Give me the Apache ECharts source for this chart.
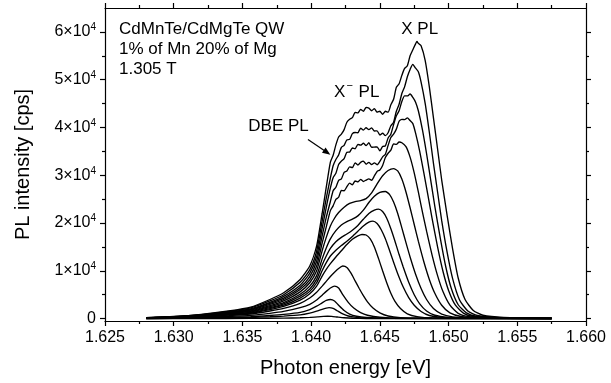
<!DOCTYPE html>
<html>
<head>
<meta charset="utf-8">
<script src="https://cdn.jsdelivr.net/npm/echarts@6/dist/echarts.min.js"></script>
<style>
  html, body { margin: 0; padding: 0; background: #fff; }
  #chart { width: 611px; height: 383px; }
</style>
</head>
<body>
<div id="chart"></div>
<script>
// PL spectra [photon energy (eV), intensity (cps)], strongest spectrum first
const spec01 = [[1.6280,200],[1.6300,450],[1.6320,900],[1.6340,1600],[1.6356,2400],[1.6370,4000],[1.6380,5400],[1.6392,8200],[1.6399,11000],[1.6404,15200],[1.6408,22000],[1.6411,27500],
  [1.6414,32750],[1.6416,34200],[1.6418,36350],[1.6420,38000],[1.6422,38600],[1.6424,39550],[1.6426,41100],[1.6428,41700],[1.6430,42050],[1.6432,43150],[1.6434,43050],[1.6436,43800],[1.6438,43400],[1.6440,44200],[1.6442,44050],[1.6444,43500],[1.6446,43950],[1.6448,43200],[1.6450,43400],[1.6452,42750],[1.6454,43400],[1.6456,43200],[1.6458,44750],[1.6460,45900],[1.6462,48400],[1.6464,49150],[1.6466,50900],[1.6468,52350],[1.6470,52900],[1.6472,55000],[1.6474,56250],[1.6476,57500],[1.6477,58000],[1.6478,57600],[1.6480,57100],
  [1.6483,54000],[1.6486,48500],[1.6489,42000],[1.6492,35500],[1.6495,29000],[1.6499,21500],[1.6503,14500],[1.6507,8500],[1.6512,4000],[1.6518,1700],[1.6525,700],[1.6540,250],[1.6575,80]];
const spec02 = [[1.6280,190],[1.6300,420],[1.6320,840],[1.6340,1500],[1.6356,2250],[1.6370,3700],[1.6380,5000],[1.6392,7600],[1.6399,10200],[1.6404,14100],[1.6408,20400],[1.6411,25200],
  [1.6414,29450],[1.6416,32000],[1.6418,33300],[1.6420,34250],[1.6422,35850],[1.6424,36250],[1.6426,37400],[1.6428,37500],[1.6430,38700],[1.6432,38950],[1.6434,38900],[1.6436,39850],[1.6438,39450],[1.6440,39950],[1.6442,39550],[1.6444,39900],[1.6446,39250],[1.6448,39300],[1.6450,38400],[1.6452,38800],[1.6454,38300],[1.6456,38900],[1.6458,40350],[1.6460,41100],[1.6462,43400],[1.6464,44850],[1.6466,47100],[1.6468,48500],[1.6470,50600],[1.6472,52150],[1.6474,53200],[1.6476,52400],[1.6478,51650],
  [1.6480,49500],[1.6483,45000],[1.6486,39000],[1.6489,32500],[1.6492,26500],[1.6495,20500],[1.6499,13800],[1.6503,8300],[1.6508,3900],[1.6514,1600],[1.6521,650],[1.6537,220],[1.6575,70]];
const spec03 = [[1.6280,170],[1.6300,390],[1.6320,770],[1.6340,1380],[1.6356,2050],[1.6370,3400],[1.6380,4650],[1.6392,7000],[1.6399,9500],[1.6404,13000],[1.6408,18900],[1.6411,23300],
  [1.6414,27350],[1.6416,29500],[1.6418,30400],[1.6420,32250],[1.6422,32950],[1.6424,33500],[1.6426,34800],[1.6428,34850],[1.6430,35700],[1.6432,35550],[1.6434,36450],[1.6436,36300],[1.6438,36700],[1.6440,36200],[1.6442,36800],[1.6444,35850],[1.6446,35900],[1.6448,35950],[1.6450,35100],[1.6452,36000],[1.6454,36150],[1.6456,37800],[1.6458,38600],[1.6460,40600],[1.6462,42450],[1.6464,43500],[1.6466,45450],[1.6468,46600],[1.6470,46600],[1.6472,47000],[1.6474,46300],[1.6476,45300],
  [1.6478,43500],[1.6481,39500],[1.6484,34500],[1.6487,29000],[1.6490,23500],[1.6494,16800],[1.6498,10800],[1.6502,6300],[1.6507,2900],[1.6513,1200],[1.6520,500],[1.6535,180],[1.6575,60]];
const spec04 = [[1.6280,160],[1.6300,360],[1.6320,720],[1.6340,1280],[1.6356,1900],[1.6370,3200],[1.6380,4300],[1.6392,6500],[1.6399,8800],[1.6404,12000],[1.6408,17300],[1.6411,21200],
  [1.6414,24500],[1.6416,26750],[1.6418,27500],[1.6420,28950],[1.6422,29250],[1.6424,30600],[1.6426,30900],[1.6428,31750],[1.6430,31600],[1.6432,32600],[1.6434,32150],[1.6436,32700],[1.6438,32950],[1.6440,32300],[1.6442,32700],[1.6444,32250],[1.6446,32600],[1.6448,32200],[1.6450,32900],[1.6452,33850],[1.6454,34400],[1.6456,36250],[1.6458,37900],[1.6460,38600],[1.6462,39650],[1.6464,41300],[1.6466,41700],[1.6468,41650],[1.6470,42000],[1.6472,41450],[1.6474,40800],
  [1.6476,38800],[1.6479,35000],[1.6482,30500],[1.6485,25800],[1.6488,21000],[1.6492,15000],[1.6496,9800],[1.6500,5900],[1.6505,2800],[1.6511,1100],[1.6518,450],[1.6532,160],[1.6575,50]];
const spec05 = [[1.6280,150],[1.6300,330],[1.6320,670],[1.6340,1180],[1.6356,1780],[1.6370,2960],[1.6380,4000],[1.6392,6100],[1.6399,8100],[1.6404,11000],[1.6408,15800],[1.6411,19200],
  [1.6414,22600],[1.6416,23600],[1.6418,24950],[1.6420,25400],[1.6422,26800],[1.6424,26750],[1.6426,27600],[1.6428,28350],[1.6430,28000],[1.6432,28800],[1.6434,28600],[1.6436,29150],[1.6438,28700],[1.6440,29000],[1.6442,29250],[1.6444,28950],[1.6446,29850],[1.6448,30800],[1.6450,31100],[1.6452,32050],[1.6454,33700],[1.6456,34600],[1.6458,35250],[1.6460,36550],[1.6462,36450],[1.6464,36950],[1.6466,36800],
  [1.6469,36000],[1.6472,33800],[1.6475,30500],[1.6478,26500],[1.6481,22300],[1.6484,18300],[1.6488,13300],[1.6492,9000],[1.6496,5600],[1.6501,2800],[1.6507,1100],[1.6515,400],[1.6528,150],[1.6575,45]];
const spec06 = [[1.6280,140],[1.6300,310],[1.6320,610],[1.6340,1090],[1.6356,1630],[1.6370,2700],[1.6380,3700],[1.6392,5600],[1.6399,7500],[1.6404,10000],[1.6408,14200],[1.6411,17000],[1.6414,19400],[1.6417,21000],[1.6420,22200],[1.6424,23300],[1.6428,24100],[1.6432,24500],[1.6436,24700],[1.6440,25100],[1.6444,26300],[1.6448,28200],[1.6452,29900],[1.6456,31000],[1.6460,31400],[1.6463,30900],[1.6466,29200],[1.6469,26500],[1.6472,23200],[1.6475,19700],[1.6478,16200],[1.6482,11900],[1.6486,8200],[1.6490,5300],[1.6495,2800],[1.6501,1200],[1.6509,450],[1.6522,150],[1.6575,40]];
const spec07 = [[1.6280,120],[1.6300,280],[1.6320,560],[1.6340,1000],[1.6356,1500],[1.6370,2500],[1.6380,3350],[1.6392,5100],[1.6399,6800],[1.6404,9000],[1.6408,12500],[1.6411,14800],[1.6414,16700],[1.6418,18400],[1.6422,19600],[1.6426,20300],[1.6430,20800],[1.6434,21500],[1.6438,22700],[1.6442,24300],[1.6446,25600],[1.6450,26400],[1.6454,26600],[1.6457,26000],[1.6460,24400],[1.6463,22000],[1.6466,19000],[1.6469,15900],[1.6472,12900],[1.6476,9300],[1.6480,6300],[1.6484,4000],[1.6489,2100],[1.6495,950],[1.6503,380],[1.6515,130],[1.6575,35]];
const spec08 = [[1.6280,110],[1.6300,260],[1.6320,510],[1.6340,910],[1.6356,1370],[1.6370,2280],[1.6380,3100],[1.6392,4700],[1.6399,6200],[1.6404,8200],[1.6408,11200],[1.6411,13100],[1.6414,14700],[1.6418,16100],[1.6422,17000],[1.6426,17700],[1.6430,18500],[1.6434,19500],[1.6438,20800],[1.6442,22000],[1.6446,22700],[1.6449,22900],[1.6452,22400],[1.6455,21000],[1.6458,18800],[1.6461,16200],[1.6464,13400],[1.6467,10800],[1.6471,7600],[1.6475,5000],[1.6479,3100],[1.6484,1600],[1.6490,700],[1.6500,250],[1.6512,100],[1.6575,30]];
const spec09 = [[1.6280,100],[1.6300,230],[1.6320,470],[1.6340,830],[1.6356,1250],[1.6370,2080],[1.6380,2800],[1.6392,4300],[1.6399,5700],[1.6404,7500],[1.6408,10000],[1.6411,11700],[1.6414,13100],[1.6418,14300],[1.6422,15300],[1.6426,16200],[1.6430,17200],[1.6434,18300],[1.6438,19400],[1.6442,20200],[1.6445,20400],[1.6448,19900],[1.6451,18600],[1.6454,16700],[1.6457,14300],[1.6460,11800],[1.6463,9400],[1.6467,6600],[1.6471,4400],[1.6475,2800],[1.6480,1500],[1.6486,650],[1.6495,230],[1.6507,90],[1.6575,25]];
const spec10 = [[1.6280,90],[1.6300,210],[1.6320,420],[1.6340,750],[1.6356,1130],[1.6370,1880],[1.6380,2540],[1.6392,3850],[1.6399,5200],[1.6404,6800],[1.6408,8900],[1.6411,10300],[1.6414,11500],[1.6418,12900],[1.6422,14200],[1.6426,15500],[1.6430,16600],[1.6434,17300],[1.6437,17600],[1.6440,17500],[1.6443,16700],[1.6446,15000],[1.6449,12600],[1.6452,10000],[1.6455,7500],[1.6458,5300],[1.6461,3600],[1.6465,2100],[1.6470,1000],[1.6477,420],[1.6488,150],[1.6575,20]];
const spec11 = [[1.6280,80],[1.6300,180],[1.6320,360],[1.6340,640],[1.6356,960],[1.6370,1600],[1.6380,2150],[1.6392,3200],[1.6399,4300],[1.6404,5500],[1.6408,6800],[1.6411,7800],[1.6414,8800],[1.6417,9700],[1.6420,10500],[1.6423,11000],[1.6426,10700],[1.6429,9500],[1.6432,7900],[1.6435,6300],[1.6438,4800],[1.6441,3500],[1.6445,2200],[1.6450,1200],[1.6456,550],[1.6465,200],[1.6480,70],[1.6575,15]];
const spec12 = [[1.6280,50],[1.6300,120],[1.6320,250],[1.6340,450],[1.6356,670],[1.6370,1100],[1.6380,1500],[1.6392,2300],[1.6399,3000],[1.6404,3900],[1.6408,4900],[1.6411,5700],[1.6414,6400],[1.6417,6800],[1.6420,6400],[1.6423,5000],[1.6427,3400],[1.6431,2200],[1.6436,1250],[1.6441,700],[1.6450,280],[1.6465,90],[1.6575,10]];
const spec13 = [[1.6280,30],[1.6300,70],[1.6320,150],[1.6340,270],[1.6356,400],[1.6370,650],[1.6380,880],[1.6392,1300],[1.6399,1900],[1.6404,2600],[1.6408,3300],[1.6411,3800],[1.6414,4000],[1.6417,3700],[1.6420,2800],[1.6424,1700],[1.6428,950],[1.6433,500],[1.6440,230],[1.6455,70],[1.6575,5]];
const spec14 = [[1.6280,20],[1.6300,40],[1.6320,80],[1.6340,150],[1.6356,230],[1.6370,380],[1.6380,520],[1.6392,780],[1.6399,1150],[1.6404,1550],[1.6408,1950],[1.6411,2200],[1.6413,2300],[1.6416,2150],[1.6419,1650],[1.6423,1000],[1.6427,550],[1.6433,260],[1.6440,120],[1.6455,40],[1.6575,5]];
const spec15 = [[1.6280,5],[1.6320,20],[1.6356,50],[1.6380,110],[1.6392,170],[1.6399,250],[1.6405,370],[1.6409,460],[1.6412,500],[1.6415,460],[1.6419,330],[1.6424,180],[1.6430,80],[1.6440,30],[1.6575,0]];

const spectra = [spec01, spec02, spec03, spec04, spec05, spec06, spec07, spec08,
                 spec09, spec10, spec11, spec12, spec13, spec14, spec15];

// axis ticks
const yMajorTicks = [0, 10000, 20000, 30000, 40000, 50000, 60000];
const yMinorTicks = [5000, 15000, 25000, 35000, 45000, 55000];

// annotation texts
const sampleLines = ['CdMnTe/CdMgTe QW', '1% of Mn 20% of Mg', '1.305 T'];
const labelX = 'X PL';
const labelTrion = ['X', '\u2212', ' PL'];
const labelDBE = 'DBE PL';

const FONT = '"Liberation Sans", Arial, Helvetica, sans-serif';
const BLACK = '#000';

const chart = echarts.init(document.getElementById('chart'), null, { renderer: 'canvas' });

const yRange = { min: -500, max: 65000 };
const xRange = { min: 1.625, max: 1.660 };

function yLabel(v) {
  if (v === 0) return '0';
  return (v / 10000) + '\u00d710{sup|4}';
}

const axisLineStyle = { show: true, onZero: false, lineStyle: { color: BLACK, width: 1.2 } };
const tickLine = { color: BLACK, width: 1.2 };

const option = {
  animation: false,
  backgroundColor: '#fff',
  grid: { left: 105, right: 25, top: 8, bottom: 61, containLabel: false },
  xAxis: [
    {
      type: 'value', position: 'bottom',
      min: xRange.min, max: xRange.max, interval: 0.005,
      axisLine: axisLineStyle,
      axisTick: { show: true, inside: false, length: 5, lineStyle: tickLine },
      minorTick: { show: true, splitNumber: 2, length: 3, lineStyle: tickLine },
      axisLabel: {
        show: true, margin: 9, color: BLACK, fontFamily: FONT, fontSize: 16,
        formatter: v => v.toFixed(3)
      },
      splitLine: { show: false },
      name: 'Photon energy [eV]', nameLocation: 'middle', nameGap: 37,
      nameTextStyle: { color: BLACK, fontFamily: FONT, fontSize: 20 }
    },
    {
      type: 'value', position: 'top',
      min: xRange.min, max: xRange.max, interval: 0.005,
      axisLine: axisLineStyle,
      axisTick: { show: true, inside: false, length: 5, lineStyle: tickLine },
      minorTick: { show: true, splitNumber: 2, length: 3, lineStyle: tickLine },
      axisLabel: { show: false },
      splitLine: { show: false }
    }
  ],
  yAxis: [
    {
      type: 'value', position: 'left',
      min: yRange.min, max: yRange.max,
      axisLine: axisLineStyle,
      axisTick: { show: true, inside: false, length: 5, customValues: yMajorTicks, lineStyle: tickLine },
      axisLabel: {
        show: true, margin: 9, color: BLACK, fontFamily: FONT, fontSize: 16,
        customValues: yMajorTicks, formatter: yLabel,
        rich: { sup: { fontSize: 10, fontFamily: FONT, color: BLACK, verticalAlign: 'top', padding: [0, 0, 9, 0] } }
      },
      splitLine: { show: false },
      name: 'PL intensity [cps]', nameLocation: 'middle', nameGap: 72, nameRotate: 90,
      nameTextStyle: { color: BLACK, fontFamily: FONT, fontSize: 20 }
    },
    {
      type: 'value', position: 'left',
      min: yRange.min, max: yRange.max,
      axisLine: { show: false },
      axisTick: { show: true, inside: false, length: 3, customValues: yMinorTicks, lineStyle: tickLine },
      axisLabel: { show: false },
      splitLine: { show: false }
    },
    {
      type: 'value', position: 'right',
      min: yRange.min, max: yRange.max,
      axisLine: axisLineStyle,
      axisTick: { show: true, inside: false, length: 5, customValues: yMajorTicks, lineStyle: tickLine },
      axisLabel: { show: false },
      splitLine: { show: false }
    },
    {
      type: 'value', position: 'right',
      min: yRange.min, max: yRange.max,
      axisLine: { show: false },
      axisTick: { show: true, inside: false, length: 3, customValues: yMinorTicks, lineStyle: tickLine },
      axisLabel: { show: false },
      splitLine: { show: false }
    }
  ],
  series: spectra.map((data, i) => ({
    type: 'line',
    name: 'spectrum ' + (i + 1),
    xAxisIndex: 0,
    yAxisIndex: 0,
    data: data,
    showSymbol: false,
    smooth: 0.2,
    silent: true,
    lineStyle: { color: BLACK, width: 1.35 },
    z: 3
  }))
};

chart.setOption(option);

// annotations, anchored in data coordinates
function px(e, v) { return chart.convertToPixel({ xAxisIndex: 0, yAxisIndex: 0 }, [e, v]); }

const textFont = { fontFamily: FONT, fontSize: 17, fill: BLACK };
const sampleAt = px(1.62602, 56300);
const xAt = px(1.64656, 60500);
const trionAt = px(1.64167, 47300);
const dbeAt = px(1.63543, 40200);
const arrowFrom = px(1.63977, 37500);
const arrowTo = px(1.64140, 34300);

// arrow from the DBE label to the shoulder
const ax0 = arrowFrom[0], ay0 = arrowFrom[1];
const ax1 = arrowTo[0], ay1 = arrowTo[1];
const len = Math.hypot(ax1 - ax0, ay1 - ay0);
const ux = (ax1 - ax0) / len, uy = (ay1 - ay0) / len;
const head = 8, half = 3.2;
const bx = ax1 - ux * head, by = ay1 - uy * head;

chart.setOption({
  graphic: [
    {
      type: 'text', x: sampleAt[0], y: sampleAt[1], z: 10,
      style: Object.assign({ text: sampleLines.join('\n'), lineHeight: 20, verticalAlign: 'middle' }, textFont)
    },
    {
      type: 'text', x: xAt[0], y: xAt[1], z: 10,
      style: Object.assign({ text: labelX, verticalAlign: 'middle' }, textFont)
    },
    {
      type: 'text', x: trionAt[0], y: trionAt[1], z: 10,
      style: Object.assign({
        text: '{a|' + labelTrion[0] + '}{s|' + labelTrion[1] + '}{a|' + labelTrion[2] + '}',
        verticalAlign: 'middle',
        rich: {
          a: { fontFamily: FONT, fontSize: 17, fill: BLACK },
          s: { fontFamily: FONT, fontSize: 11, fill: BLACK, verticalAlign: 'top', padding: [0, 1, 14, 1] }
        }
      }, textFont)
    },
    {
      type: 'text', x: dbeAt[0], y: dbeAt[1], z: 10,
      style: Object.assign({ text: labelDBE, verticalAlign: 'middle' }, textFont)
    },
    {
      type: 'line', z: 10,
      shape: { x1: ax0, y1: ay0, x2: bx + ux * 1, y2: by + uy * 1 },
      style: { stroke: BLACK, lineWidth: 1.2 }
    },
    {
      type: 'polygon', z: 10,
      shape: { points: [[ax1, ay1], [bx - uy * half, by + ux * half], [bx + uy * half, by - ux * half]] },
      style: { fill: BLACK }
    }
  ]
});
</script>
</body>
</html>
